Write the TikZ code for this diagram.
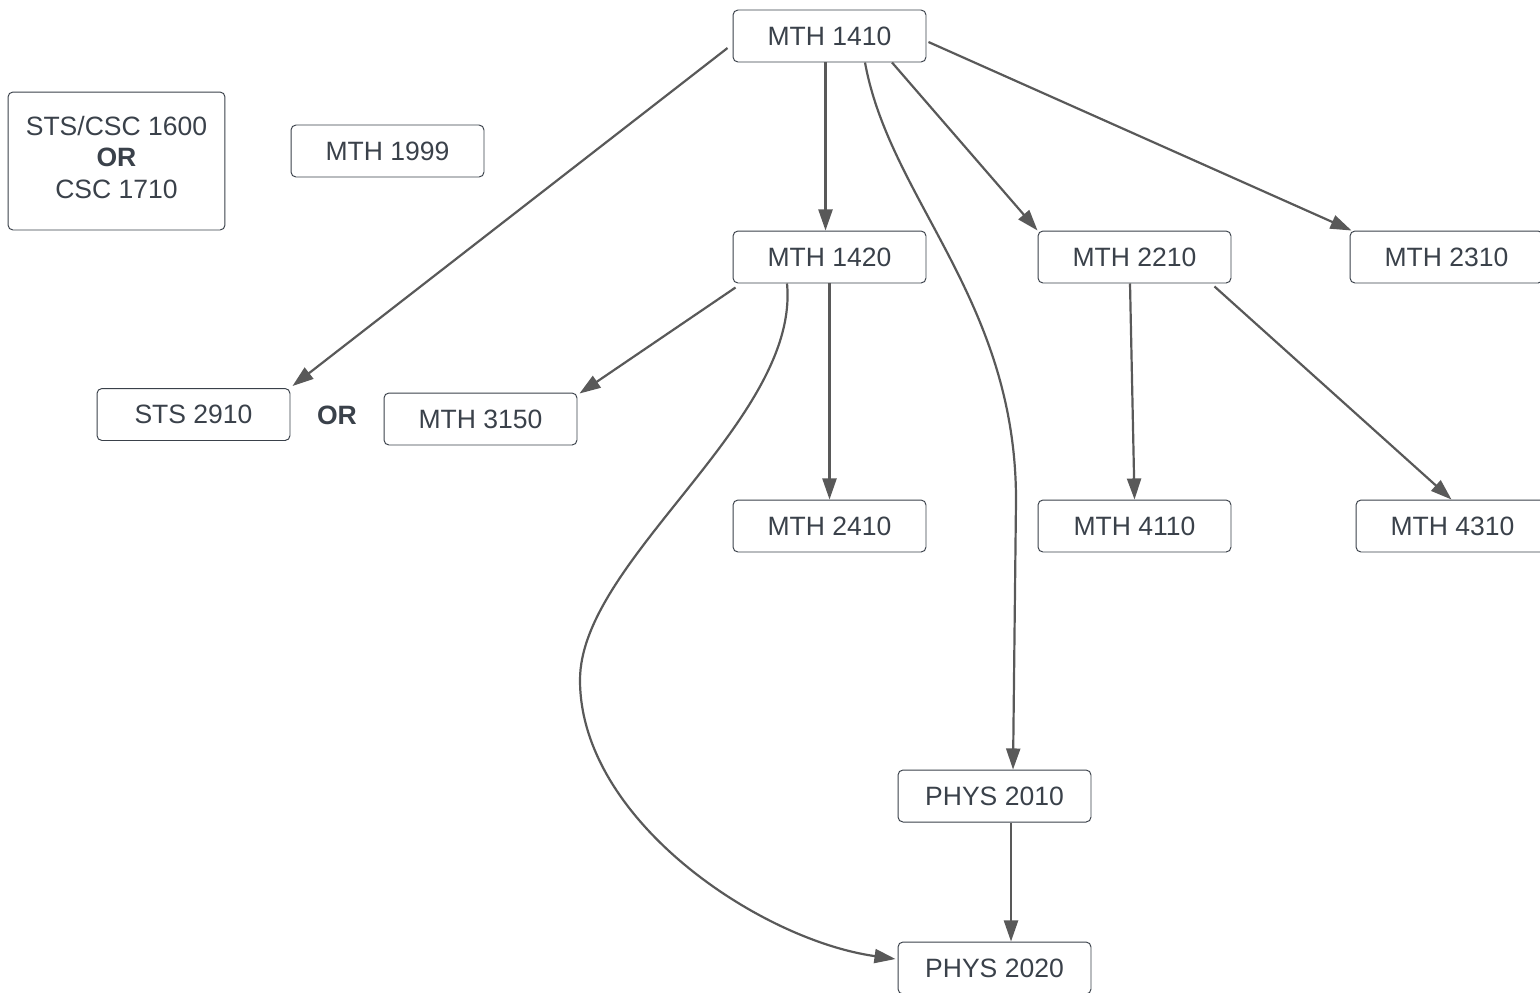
\documentclass[tikz,border=0pt]{standalone}
\usepackage{fontspec}
\setmainfont{Liberation Sans}
\usetikzlibrary{arrows.meta,calc}
\definecolor{txtgray}{RGB}{58,65,74}
\definecolor{linegray}{RGB}{89,89,89}

\begin{document}
\begin{tikzpicture}[x=0.02cm,y=-0.02cm,
course/.style={draw=txtgray, line width=0.55pt, rounded corners=2.8pt, minimum width=3.86cm, minimum height=1.04cm, inner sep=0pt, text=txtgray, font=\fontsize{15.1}{18}\selectfont},
pre/.style={draw=linegray, line width=1.25pt, -{Stealth[inset=0pt,length=12pt,width=8pt]}}]
\useasboundingbox (0,0) rectangle (1540,992);

\node[course] (m1410) at (829.5,36) {MTH 1410};
\node[course, minimum width=4.34cm, minimum height=2.76cm, text depth=4.5pt, align=center] (stscsc) at (116.5,161) {STS/CSC 1600\\\textbf{OR}\\CSC 1710};
\node[course] (m1999) at (387.5,151) {MTH 1999};
\node[course] (m1420) at (829.5,257) {MTH 1420};
\node[course] (m2210) at (1134.5,257) {MTH 2210};
\node[course] (m2310) at (1446.5,257) {MTH 2310};
\node[course] (s2910) at (193.5,414.5) {STS 2910};
\node[text=txtgray, font=\fontsize{15.1}{18}\selectfont\bfseries] (orlabel) at (337,415) {OR};
\node[course] (m3150) at (480.5,419) {MTH 3150};
\node[course] (m2410) at (829.5,526) {MTH 2410};
\node[course] (m4110) at (1134.5,526) {MTH 4110};
\node[course] (m4310) at (1452.5,526) {MTH 4310};
\node[course] (p2010) at (994.5,796) {PHYS 2010};
\node[course] (p2020) at (994.5,968) {PHYS 2020};

\draw[pre] ($(m1410.west)+(-5,12)$) -- ($(s2910.north east)+(2,-2)$);
\draw[pre] ($(m1410.south)+(-4,0)$) -- ($(m1420.north)+(-4,0)$);
\draw[pre] ($(m1410.south)+(35.5,0)$) .. controls (890,200) and (1016,300) .. (1016,500) -- ($(p2010.north)+(18.5,0)$);
\draw[pre] ($(m1410.south)+(62.5,0)$) -- (m2210.north west);
\draw[pre] ($(m1410.east)+(2,6)$) -- ($(m2310.north west)+(2,0)$);
\draw[pre] ($(m1420.south west)+(3,4)$) -- ($(m3150.north east)+(2,1)$);
\draw[pre] ($(m1420.south)+(-42.5,0)$) .. controls (800,420) and (580,560) .. (580,680) .. controls (580,820) and (760,940) .. ($(p2020.west)+(-2,-9)$);
\draw[pre] (m1420.south) -- (m2410.north);
\draw[pre] ($(m2210.south)+(-4.5,0)$) -- (m4110.north);
\draw[pre] ($(m2210.south east)+(-17,3)$) -- ($(m4310.north)+(-1,0)$);
\draw[pre] ($(p2010.south)+(16.5,0)$) -- ($(p2020.north)+(16.5,0)$);

\end{tikzpicture}
\end{document}
